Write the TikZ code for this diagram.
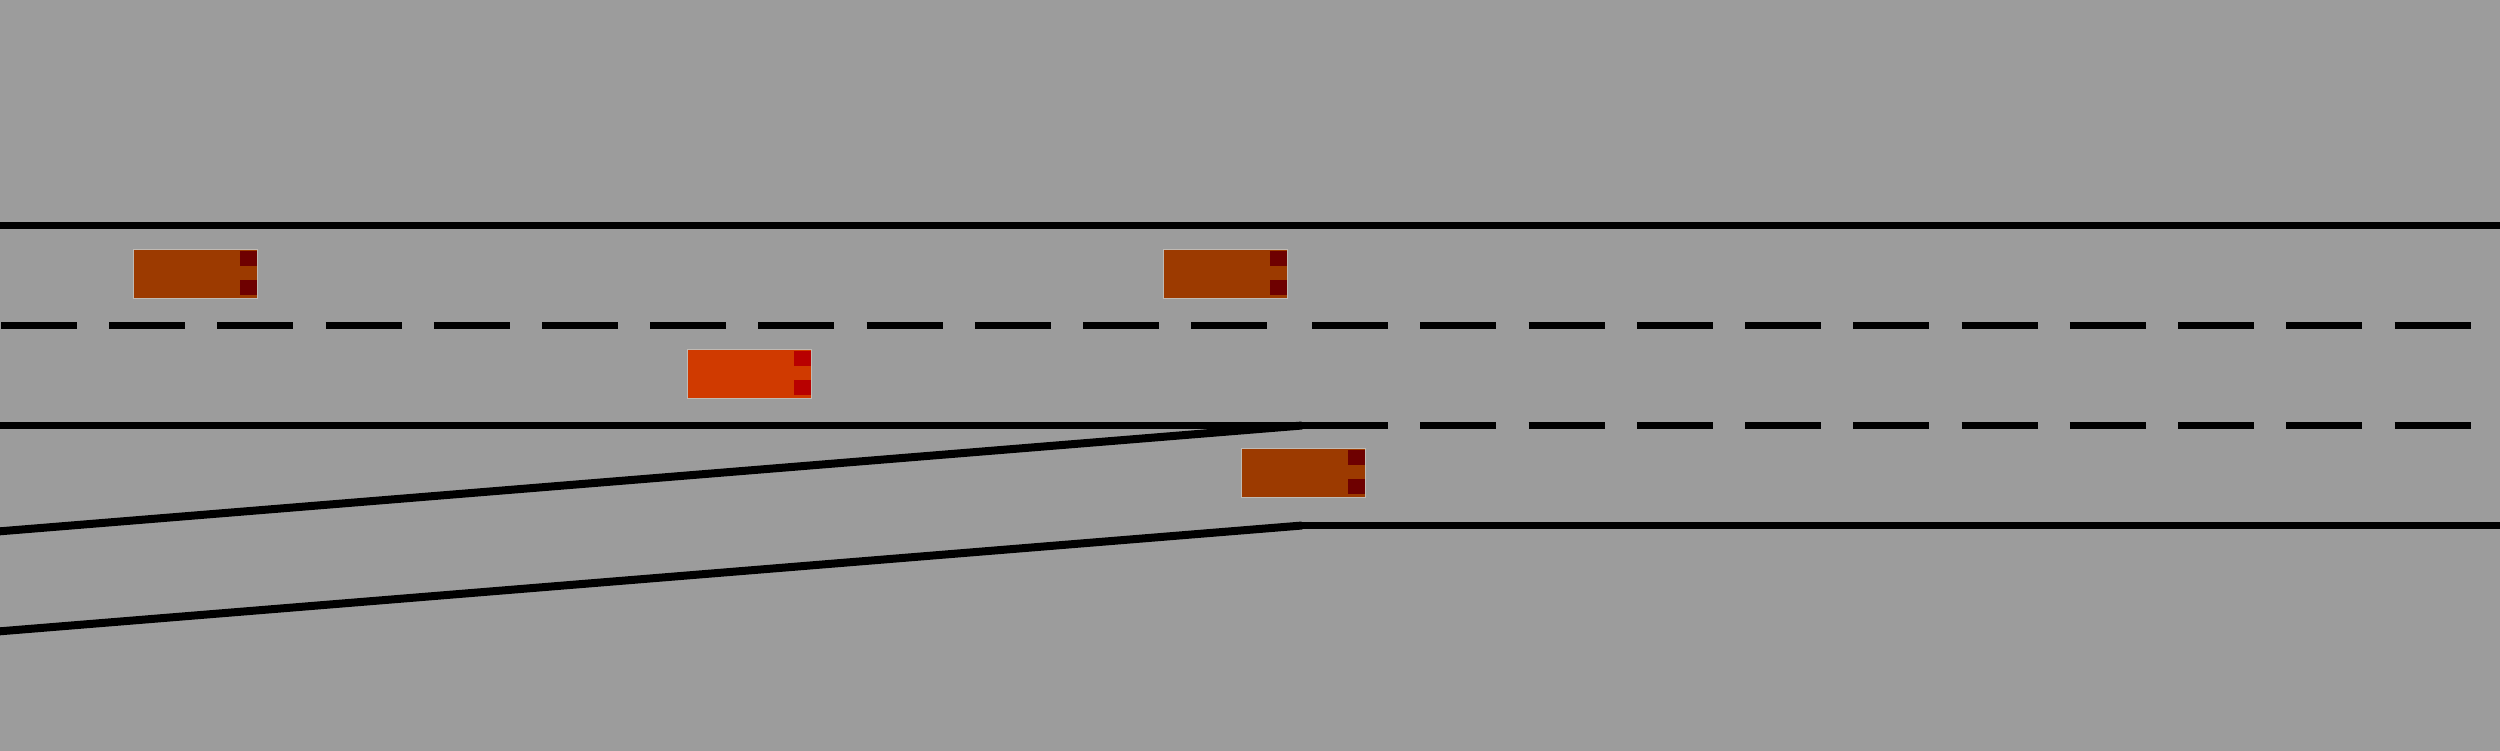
\documentclass[tikz,border=0pt]{standalone}
\definecolor{roadgrey}{HTML}{9C9C9C}
\definecolor{carborder}{HTML}{C0BAB4}
\definecolor{brownbody}{HTML}{9C3A00}
\definecolor{brownlamp}{HTML}{6E0000}
\definecolor{redbody}{HTML}{D03A00}
\definecolor{redlamp}{HTML}{B80000}
\tikzset{
  roadline/.style={draw=black,line width=0.07cm,line cap=butt,line join=miter},
  rampline/.style={draw=black,line width=0.08cm,line cap=butt,line join=round},
  carbody/.style={draw=carborder,line width=0.01cm},
  lamp/.style={line width=0pt},
}
\newcommand{\roadcar}[4]{%
  \fill[#3,carbody] (#1+0.5,#2+0.5) rectangle (#1+124.5,#2+49.5);
  \fill[#4,lamp] (#1+107,#2+2) rectangle (#1+124,#2+17);
  \fill[#4,lamp] (#1+107,#2+31) rectangle (#1+124,#2+46);
}
\begin{document}
\begin{tikzpicture}[x=0.01cm,y=-0.01cm]
  \useasboundingbox (0,0) rectangle (2500,750);
  \fill[roadgrey] (-20,-20) rectangle (2520,770);
  \clip (-5,-5) rectangle (2505,755);
  % solid edges
  \draw[roadline] (-20,225.5) -- (2520,225.5);
  \draw[roadline] (-20,425.5) -- (1388,425.5);
  \draw[rampline] (-20,532.9) -- (1302,425.5);
  \draw[rampline] (-20,632.9) -- (1302,525.5);
  \draw[roadline] (1302,525.5) -- (2520,525.5);
  % dashes, first lane divider
  \foreach \k in {0,...,11} {
    \draw[roadline] ({1+108.2*\k},325.5) -- ({77+108.2*\k},325.5);
  }
  \foreach \k in {0,...,10} {
    \draw[roadline] ({1312+108.25*\k},325.5) -- ({1388+108.25*\k},325.5);
  }
  % dashes, second lane divider
  \foreach \k in {1,...,10} {
    \draw[roadline] ({1312+108.25*\k},425.5) -- ({1388+108.25*\k},425.5);
  }
  % vehicles
  \roadcar{133}{249}{brownbody}{brownlamp}
  \roadcar{1163}{249}{brownbody}{brownlamp}
  \roadcar{687}{349}{redbody}{redlamp}
  \roadcar{1241}{448}{brownbody}{brownlamp}
\end{tikzpicture}
\end{document}
